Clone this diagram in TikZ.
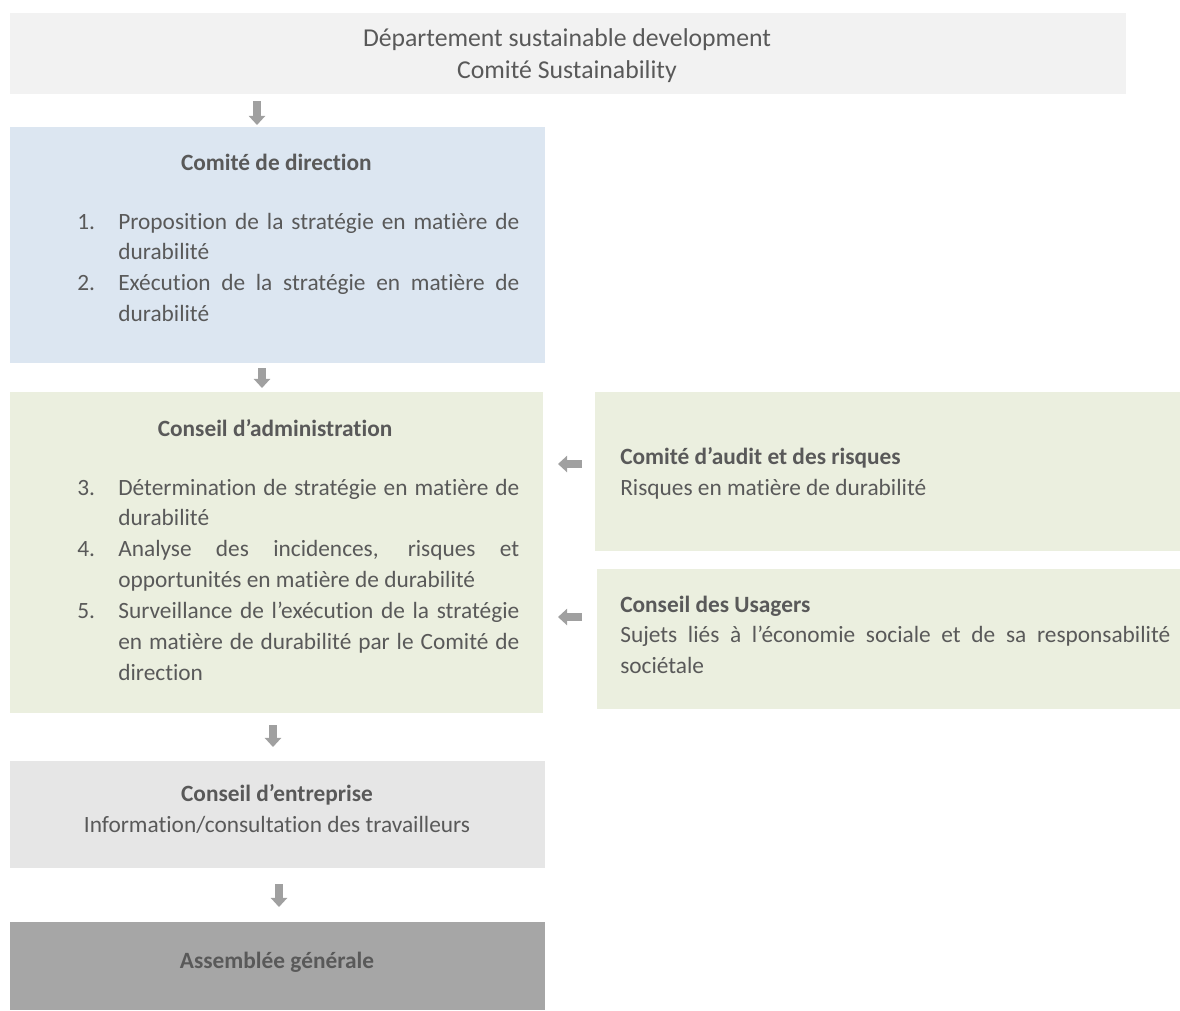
\documentclass[tikz,border=0pt]{standalone}
\usepackage{fontspec}
\setmainfont{Carlito}[Ligatures = NoCommon]
\usetikzlibrary{arrows.meta}

\definecolor{deptgray}{HTML}{F2F2F2}
\definecolor{dirblue}{HTML}{DCE6F1}
\definecolor{boardgreen}{HTML}{EBEFDF}
\definecolor{worksgray}{HTML}{E6E6E6}
\definecolor{assemgray}{HTML}{A6A6A6}
\definecolor{inkgray}{HTML}{595959}
\definecolor{arrowgray}{HTML}{A0A0A0}

% numbered line with hanging indent
\newcommand{\stepitem}[2]{\noindent\hangindent=29.2pt\hangafter=1\makebox[29.2pt][l]{#1}#2\par}

\tikzset{
    panel/.style = {draw = none, inner sep = 0pt, outer sep = 0pt, anchor = north west},
    boxtext/.style = {inner sep = 0pt, text = inkgray, font = \fontsize{16.6pt}{22pt}\selectfont},
    steplist/.style = {boxtext, anchor = base west, text width = 11.05cm, align = justify},
    flow/.style = {draw = arrowgray, line width = 5pt, -{Triangle[width = 11.5pt, length = 6.5pt]}}
}

\begin{document}
\begin{tikzpicture}
    \useasboundingbox (0,0) rectangle (29.5,-25.25);

    % panels
    \node[panel, fill = deptgray, minimum width = 27.9cm, minimum height = 2.025cm] (dept) at (0.25,-0.325) {};
    \node[panel, fill = dirblue, minimum width = 13.375cm, minimum height = 5.9cm] (dir) at (0.25,-3.175) {};
    \node[panel, fill = boardgreen, minimum width = 13.325cm, minimum height = 8.025cm] (board) at (0.25,-9.8) {};
    \node[panel, fill = boardgreen, minimum width = 14.625cm, minimum height = 3.975cm] (audit) at (14.875,-9.8) {};
    \node[panel, fill = boardgreen, minimum width = 14.575cm, minimum height = 3.5cm] (users) at (14.925,-14.225) {};
    \node[panel, fill = worksgray, minimum width = 13.375cm, minimum height = 2.675cm] (works) at (0.25,-19.025) {};
    \node[panel, fill = assemgray, minimum width = 13.375cm, minimum height = 2.2cm] (assem) at (0.25,-23.05) {};

    % texts
    \node[boxtext, align = center, font = \fontsize{18.3pt}{22.75pt}\selectfont] (depttext) at (14.175,-1.4)
        {Département sustainable development\\Comité Sustainability};

    \node[boxtext, anchor = base, font = \fontsize{16.6pt}{22pt}\selectfont\bfseries] (dirtitle) at (6.91,-4.25) {Comité de direction};
    \node[steplist] (dirlist) at (1.925,-5.725) {%
        \stepitem{1.}{Proposition de la stratégie en matière de durabilité}%
        \stepitem{2.}{Exécution de la stratégie en matière de durabilité}};

    \node[boxtext, anchor = base, font = \fontsize{16.6pt}{22pt}\selectfont\bfseries] (boardtitle) at (6.875,-10.9) {Conseil d’administration};
    \node[steplist] (boardlist) at (1.925,-12.375) {%
        \stepitem{3.}{Détermination de stratégie en matière de\linebreak durabilité}%
        \stepitem{4.}{Analyse des incidences, risques et\linebreak opportunités en matière de durabilité}%
        \stepitem{5.}{Surveillance de l’exécution de la stratégie\linebreak en matière de durabilité par le Comité de\linebreak direction}};

    \node[boxtext, anchor = base west, align = left] (audittext) at (15.5,-12.375)
        {\textbf{Comité d’audit et des risques}\\Risques en matière de durabilité};
    \node[boxtext, anchor = base west, text width = 13.75cm, align = justify] (userstext) at (15.5,-15.3)
        {\textbf{Conseil des Usagers}\\\hyphenpenalty=10000 Sujets liés à l’économie sociale et de sa responsabilité\linebreak sociétale};

    \node[boxtext, anchor = base, align = center] (workstext) at (6.925,-20.8)
        {\textbf{Conseil d’entreprise}\\Information/consultation des travailleurs};
    \node[boxtext, anchor = base, font = \fontsize{16.6pt}{22pt}\selectfont\bfseries] (assemtext) at (6.925,-24.2) {Assemblée générale};

    % arrows
    \draw[flow, shorten < = 0.175cm, shorten > = 0.05cm] ([xshift = -0.5125cm]dir.north |- dept.south) -- ([xshift = -0.5125cm]dir.north);
    \draw[flow, shorten < = 0.125cm, shorten > = 0.1cm] ([xshift = -0.3875cm]dir.south) -- ([xshift = -0.3875cm]dir.south |- board.north);
    \draw[flow, shorten < = 0.3cm, shorten > = 0.35cm] ([xshift = -0.0875cm]board.south) -- ([xshift = -0.0875cm]board.south |- works.north);
    \draw[flow, shorten < = 0.4cm, shorten > = 0.375cm] ([xshift = 0.0375cm]works.south) -- ([xshift = 0.0375cm]works.south |- assem.north);
    \draw[flow, shorten < = 0.325cm, shorten > = 0.375cm] ([yshift = 0.1875cm]audit.west) -- ([yshift = 0.1875cm]audit.west -| board.east);
    \draw[flow, shorten < = 0.375cm, shorten > = 0.375cm] ([yshift = 0.55cm]users.west) -- ([yshift = 0.55cm]users.west -| board.east);
\end{tikzpicture}
\end{document}
